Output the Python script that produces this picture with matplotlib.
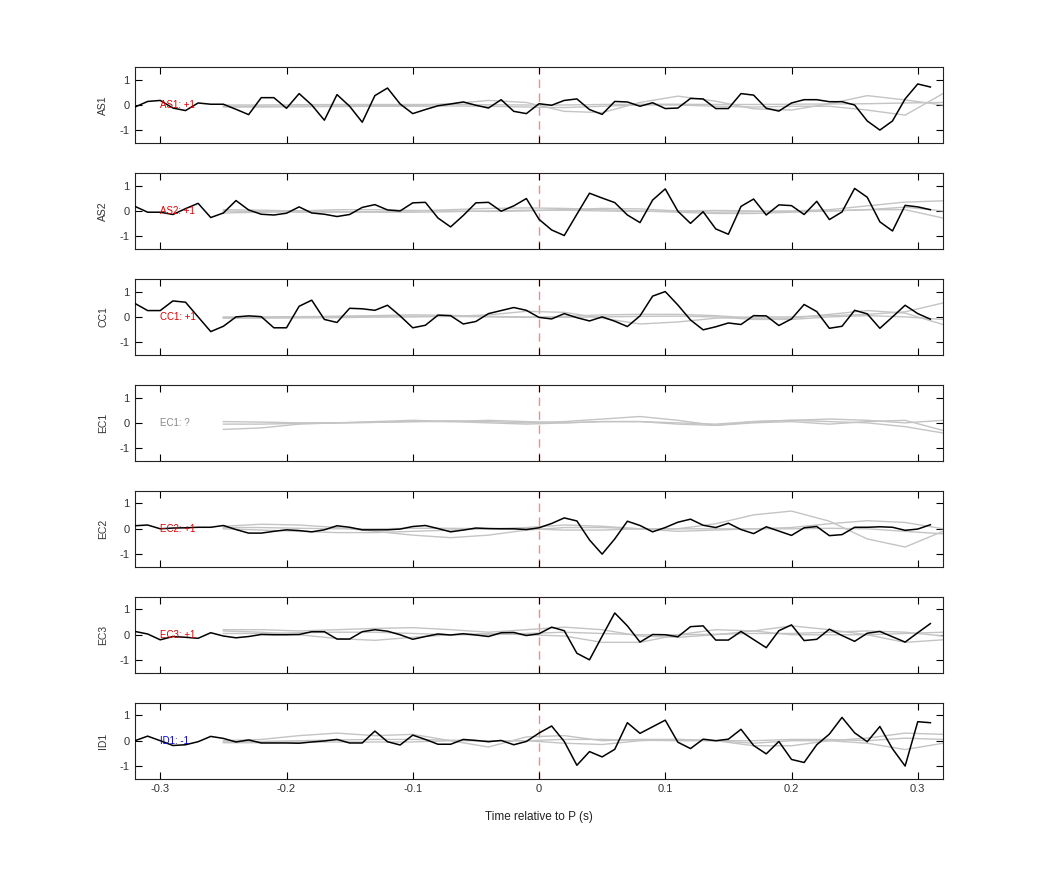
import numpy as np
import matplotlib
matplotlib.use("Agg")
import matplotlib.pyplot as plt

plt.rcParams['font.family'] = ['Liberation Sans', 'DejaVu Sans']
plt.rcParams['axes.unicode_minus'] = False

# station names, polarity picks and label colours
stations = ['AS1', 'AS2', 'CC1', 'EC1', 'EC2', 'EC3', 'ID1']
picks = ['+1', '+1', '+1', '?', '+1', '+1', '-1']
pick_colors = ['#dd0000', '#dd0000', '#dd0000', '#888888', '#dd0000', '#dd0000', '#0000dd']

# observed traces, sampled every 0.01 s from -0.32 s
t_obs = np.round(np.arange(-0.32, 0.315, 0.01), 2)

as1 = [-0.08, 0.14, 0.18, -0.12, -0.22, 0.08, 0.03, 0.03, -0.17, -0.38,
       0.29, 0.29, -0.13, 0.45, 0.0, -0.6, 0.41, -0.05, -0.68, 0.37,
       0.67, 0.04, -0.34, -0.18, -0.03, 0.04, 0.12, -0.01, -0.12, 0.21,
       -0.25, -0.34, 0.05, -0.01, 0.18, 0.24, -0.18, -0.37, 0.14, 0.12,
       -0.05, 0.09, -0.14, -0.12, 0.26, 0.24, -0.14, -0.14, 0.45, 0.39,
       -0.13, -0.24, 0.08, 0.21, 0.21, 0.13, 0.13, 0.0, -0.63, -0.99,
       -0.63, 0.24, 0.83, 0.71]
as2 = [0.18, -0.05, -0.05, -0.14, 0.09, 0.30, -0.26, -0.08, 0.41, 0.04,
       -0.13, -0.16, -0.09, 0.16, -0.08, -0.13, -0.22, -0.14, 0.14, 0.25,
       0.04, 0.0, 0.32, 0.34, -0.28, -0.63, -0.18, 0.32, 0.34, -0.01,
       0.2, 0.49, -0.33, -0.75, -0.97, -0.13, 0.70, 0.51, 0.33, -0.16,
       -0.46, 0.43, 0.87, -0.01, -0.49, -0.03, -0.71, -0.92, 0.18, 0.47,
       -0.16, 0.24, 0.21, -0.14, 0.38, -0.34, -0.04, 0.89, 0.54, -0.43,
       -0.79, 0.22, 0.16, 0.05]
cc1 = [0.53, 0.25, 0.25, 0.63, 0.58, 0.0, -0.58, -0.37, 0.0, 0.04,
       0.01, -0.43, -0.43, 0.42, 0.66, -0.1, -0.22, 0.34, 0.32, 0.26,
       0.46, 0.04, -0.43, -0.33, 0.07, 0.05, -0.28, -0.18, 0.13, 0.25,
       0.37, 0.26, -0.02, -0.08, 0.13, -0.03, -0.16, 0.0, -0.17, -0.38,
       0.04, 0.82, 1.0, 0.47, -0.12, -0.51, -0.39, -0.24, -0.3, 0.05,
       0.04, -0.34, -0.08, 0.49, 0.21, -0.45, -0.37, 0.26, 0.12, -0.45,
       0.0, 0.46, 0.13, -0.09]
ec1 = None
ec2 = [0.12, 0.15, 0.0, 0.03, 0.04, 0.06, 0.06, 0.13, -0.03, -0.17,
       -0.17, -0.1, -0.04, -0.07, -0.12, -0.04, 0.12, 0.06, -0.04, -0.04,
       -0.04, -0.01, 0.09, 0.13, 0.01, -0.12, -0.05, 0.03, 0.01, 0.0,
       0.0, -0.03, 0.04, 0.21, 0.43, 0.31, -0.44, -1.0, -0.40, 0.30,
       0.13, -0.12, 0.05, 0.26, 0.38, 0.14, 0.05, 0.22, -0.03, -0.19,
       0.08, -0.09, -0.26, 0.04, 0.09, -0.27, -0.23, 0.06, 0.06, 0.08,
       0.06, -0.06, -0.01, 0.16]
ec3 = [0.13, 0.03, -0.2, -0.07, -0.1, -0.14, 0.08, -0.05, -0.12, -0.07,
       0.01, 0.0, 0.0, 0.01, 0.12, 0.12, -0.17, -0.17, 0.12, 0.2,
       0.14, 0.0, -0.18, -0.07, 0.03, -0.01, 0.04, -0.01, -0.07, 0.08,
       0.09, -0.03, 0.04, 0.3, 0.16, -0.73, -0.99, -0.06, 0.86, 0.35,
       -0.29, 0.01, 0.0, -0.08, 0.32, 0.35, -0.21, -0.21, 0.13, -0.19,
       -0.51, 0.16, 0.39, -0.23, -0.18, 0.22, -0.03, -0.26, 0.06, 0.13,
       -0.08, -0.29, 0.08, 0.44]
id1 = [0.0, 0.18, 0.0, -0.19, -0.16, -0.04, 0.17, 0.09, -0.05, 0.03,
       -0.09, -0.09, -0.09, -0.1, -0.05, -0.01, 0.05, -0.09, -0.09, 0.38,
       -0.04, -0.17, 0.22, 0.05, -0.14, -0.14, 0.05, 0.01, -0.04, 0.01,
       -0.16, -0.03, 0.3, 0.58, -0.03, -0.97, -0.43, -0.64, -0.34, 0.71,
       0.29, 0.55, 0.81, -0.06, -0.31, 0.06, 0.0, 0.06, 0.45, -0.19,
       -0.52, -0.03, -0.74, -0.86, -0.16, 0.26, 0.92, 0.31, -0.04, 0.56,
       -0.32, -1.0, 0.75, 0.71]
observed = [as1, as2, cc1, ec1, ec2, ec3, id1]

# synthetic traces (grey), sampled every 0.03 s from -0.25 s
t_syn = np.round(np.arange(-0.25, 0.325, 0.03), 2)

syn_as1 = [
    [0.0, 0.0, 0.01, 0.02, 0.02, 0.02, 0.02, 0.01, 0.0, 0.0,
     0.02, 0.03, 0.03, 0.02, 0.02, 0.03, 0.04, 0.05, 0.08, 0.1],
    [-0.05, -0.05, -0.04, -0.04, -0.03, -0.02, 0.05, 0.18, 0.1, -0.25,
     -0.3, 0.1, 0.35, 0.15, -0.15, -0.2, 0.05, 0.37, 0.2, 0.0],
    [-0.08, -0.08, -0.07, -0.06, -0.05, -0.05, -0.04, -0.05, -0.08, -0.1,
     -0.05, 0.0, 0.0, -0.05, -0.08, -0.05, -0.05, -0.2, -0.4, 0.45],
]
syn_as2 = [
    [0.0, -0.03, -0.05, -0.05, -0.03, 0.0, 0.05, 0.1, 0.12, 0.1,
     0.05, 0.0, -0.05, -0.1, -0.1, -0.05, 0.0, 0.05, 0.15, 0.0],
    [-0.08, -0.05, 0.0, 0.05, 0.05, 0.02, 0.0, -0.02, 0.0, 0.05,
     0.1, 0.08, 0.0, -0.05, -0.03, 0.0, 0.05, 0.2, 0.35, 0.4],
    [0.05, 0.03, 0.0, -0.02, -0.05, -0.05, -0.03, 0.0, 0.03, 0.03,
     0.0, -0.02, 0.0, 0.02, 0.0, -0.02, 0.0, 0.05, 0.05, -0.28],
]
syn_cc1 = [
    [-0.05, -0.05, -0.04, -0.03, -0.01, 0.0, 0.02, 0.08, 0.22, 0.18,
     -0.05, -0.28, -0.2, -0.05, 0.0, 0.0, 0.05, 0.1, 0.2, 0.55],
    [0.0, 0.0, 0.01, 0.02, 0.03, 0.03, 0.02, 0.0, -0.02, 0.02,
     0.08, 0.1, 0.1, 0.05, -0.05, -0.05, 0.1, 0.25, 0.15, -0.3],
    [-0.03, -0.02, 0.0, 0.02, 0.05, 0.08, 0.06, 0.02, 0.0, -0.02,
     0.0, 0.02, 0.03, 0.0, -0.1, -0.1, 0.0, 0.05, 0.0, -0.1],
]
syn_ec1 = [
    [-0.26, -0.2, -0.05, 0.0, 0.02, 0.05, 0.08, 0.05, 0.0, 0.05,
     0.15, 0.25, 0.1, -0.1, 0.05, 0.1, 0.05, 0.0, -0.15, -0.4],
    [-0.05, -0.05, -0.02, 0.0, 0.02, 0.05, 0.05, 0.1, 0.05, 0.0,
     0.05, 0.05, -0.05, -0.1, 0.0, 0.05, -0.05, 0.05, 0.1, -0.3],
    [0.05, 0.03, 0.0, 0.0, 0.05, 0.1, 0.05, 0.0, -0.05, 0.0,
     0.05, 0.05, 0.0, -0.05, 0.05, 0.1, 0.15, 0.1, 0.0, 0.1],
]
syn_ec2 = [
    [0.1, 0.18, 0.15, 0.05, -0.1, -0.25, -0.35, -0.25, -0.05, 0.05,
     0.05, 0.0, 0.0, 0.2, 0.55, 0.7, 0.3, -0.4, -0.72, -0.1],
    [0.0, -0.05, -0.1, -0.15, -0.15, -0.1, -0.05, 0.0, 0.05, 0.15,
     0.1, 0.0, -0.1, -0.05, 0.0, 0.05, 0.2, 0.32, 0.25, 0.0],
    [0.05, 0.05, 0.02, 0.0, 0.0, 0.02, 0.02, 0.0, 0.0, -0.05,
     -0.05, 0.0, 0.0, 0.0, 0.0, 0.0, 0.02, 0.0, -0.1, -0.2],
]
syn_ec3 = [
    [0.2, 0.2, 0.15, 0.2, 0.25, 0.28, 0.2, 0.1, 0.2, 0.3,
     0.2, -0.05, -0.1, 0.0, 0.15, 0.35, 0.2, 0.0, -0.3, -0.2],
    [0.15, 0.1, 0.0, -0.15, -0.22, -0.1, 0.0, 0.05, 0.0, -0.05,
     -0.3, -0.3, 0.0, 0.2, 0.15, 0.0, 0.0, 0.0, 0.05, 0.1],
    [0.05, 0.05, 0.08, 0.1, 0.1, 0.05, 0.0, 0.0, 0.05, 0.1,
     0.05, 0.0, 0.0, 0.02, 0.05, 0.05, 0.1, 0.15, 0.1, -0.05],
]
syn_id1 = [
    [0.0, 0.05, 0.2, 0.3, 0.2, 0.25, 0.0, -0.25, 0.15, 0.2,
     0.0, 0.05, 0.05, 0.0, -0.1, 0.0, 0.0, 0.1, 0.3, 0.25],
    [-0.05, -0.03, 0.0, 0.03, 0.05, 0.05, 0.02, 0.0, 0.0, -0.1,
     -0.15, 0.0, 0.05, 0.0, -0.2, -0.2, 0.0, -0.1, -0.35, -0.1],
    [-0.08, -0.08, -0.05, -0.05, -0.05, -0.05, 0.0, 0.0, 0.0, 0.05,
     0.05, 0.02, 0.0, 0.0, 0.0, 0.05, 0.05, 0.0, 0.1, 0.05],
]
synthetics = [syn_as1, syn_as2, syn_cc1, syn_ec1, syn_ec2, syn_ec3, syn_id1]

W, H = 1042, 875
fig = plt.figure(figsize=(W / 100, H / 100), dpi=100)

left, right = 135, 943
top0, panel_h, step = 67, 76, 105.95

for k, name in enumerate(stations):
    top = top0 + step * k
    ax = fig.add_axes([left / W, 1 - (top + panel_h) / H, (right - left) / W, panel_h / H])

    ax.axvline(0, color='#f08c8c', lw=1.0, ls=(0, (6, 4)), zorder=1)
    for s in synthetics[k]:
        ax.plot(t_syn, s, color='#c4c4c4', lw=1.0, zorder=2)
    if observed[k] is not None:
        ax.plot(t_obs, observed[k], color='black', lw=1.1, zorder=3)

    ax.text(-0.3, 0, f'{name}: {picks[k]}', color=pick_colors[k], fontsize=7,
            va='center', ha='left', zorder=4)

    ax.set_xlim(-0.32, 0.32)
    ax.set_ylim(-1.5, 1.5)
    ax.set_yticks([-1, 0, 1])
    ax.set_xticks([-0.3, -0.2, -0.1, 0, 0.1, 0.2, 0.3])
    ax.tick_params(direction='in', length=5, width=0.8, top=True, right=True,
                   labelsize=8, labelcolor='#333333', pad=4)
    for sp in ax.spines.values():
        sp.set_linewidth(0.8)
        sp.set_color('#222222')
    ax.set_ylabel(name, fontsize=7.5, color='#333333', labelpad=8)
    if k < len(stations) - 1:
        ax.set_xticklabels([])
    else:
        ax.set_xticklabels(['-0.3', '-0.2', '-0.1', '0', '0.1', '0.2', '0.3'])
        ax.set_xlabel('Time relative to P (s)', fontsize=8.5, color='#222222', labelpad=12)

fig.savefig('out.png', dpi=100)
